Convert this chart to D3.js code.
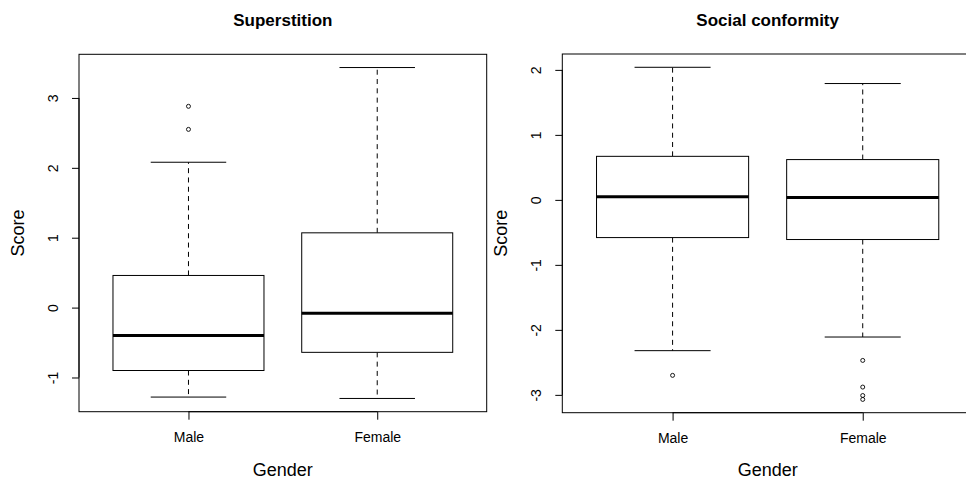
<!DOCTYPE html>
<html>
<head>
<meta charset="utf-8">
<script src="https://cdn.jsdelivr.net/npm/d3@7"></script>
<style>
  html, body { margin: 0; padding: 0; background: #fff; }
  svg { display: block; font-family: "Liberation Sans", Arial, Helvetica, sans-serif; }
</style>
</head>
<body>
<svg id="chart" width="966" height="481"></svg>
<script>
// Groups on the x axis
const groups = ["Male", "Female"];

// Box statistics per group: [lower whisker, Q1, median, Q3, upper whisker]
const superstitionStats = [
  [-1.28, -0.90, -0.40, 0.46, 2.08],
  [-1.30, -0.64, -0.08, 1.07, 3.435]
];
const superstitionOutliers = [
  [2.55, 2.88],
  []
];

const conformityStats = [
  [-2.32, -0.58, 0.05, 0.67, 2.04],
  [-2.11, -0.61, 0.035, 0.62, 1.79]
];
const conformityOutliers = [
  [-2.70],
  [-2.47, -2.88, -3.01, -3.07]
];

// Tick labels on the y axes
const superstitionTicks = [-1, 0, 1, 2, 3];
const conformityTicks = [-3, -2, -1, 0, 1, 2];

const panels = [
  { title: "Superstition", stats: superstitionStats, outliers: superstitionOutliers,
    ticks: superstitionTicks, left: 79, right: 486.7, top: 54.3, bottom: 411.7 },
  { title: "Social conformity", stats: conformityStats, outliers: conformityOutliers,
    ticks: conformityTicks, left: 562.3, right: 973, top: 54, bottom: 412.7 }
];

const svg = d3.select("#chart");

// Extend a range by 4% on each side, as base graphics do
function padded(lo, hi) {
  const r = hi - lo;
  return [lo - 0.04 * r, hi + 0.04 * r];
}

panels.forEach(p => {
  const g = svg.append("g");
  const allVals = p.stats.flat().concat(p.outliers.flat());
  const y = d3.scaleLinear()
    .domain(padded(d3.min(allVals), d3.max(allVals)))
    .range([p.bottom, p.top]);
  const x = d3.scaleLinear()
    .domain(padded(0.5, groups.length + 0.5))
    .range([p.left, p.right]);
  const boxHalf = 0.4;   // box width 0.8 in group units
  const capHalf = 0.2;   // staple width is half the box

  // Whiskers (dashed)
  groups.forEach((grp, i) => {
    const s = p.stats[i];
    const cx = x(i + 1);
    g.append("line")
      .attr("x1", cx).attr("x2", cx)
      .attr("y1", y(s[3])).attr("y2", y(s[4]))
      .attr("stroke", "#000").attr("stroke-width", 1).attr("stroke-dasharray", "5,4.3");
    g.append("line")
      .attr("x1", cx).attr("x2", cx)
      .attr("y1", y(s[1])).attr("y2", y(s[0]))
      .attr("stroke", "#000").attr("stroke-width", 1).attr("stroke-dasharray", "5,4.3");
    // Staples
    [s[0], s[4]].forEach(v => {
      g.append("line")
        .attr("x1", x(i + 1 - capHalf)).attr("x2", x(i + 1 + capHalf))
        .attr("y1", y(v)).attr("y2", y(v))
        .attr("stroke", "#000").attr("stroke-width", 1);
    });
    // Box
    g.append("rect")
      .attr("x", x(i + 1 - boxHalf))
      .attr("width", x(i + 1 + boxHalf) - x(i + 1 - boxHalf))
      .attr("y", y(s[3]))
      .attr("height", y(s[1]) - y(s[3]))
      .attr("fill", "#fff").attr("stroke", "#000").attr("stroke-width", 1);
    // Median
    g.append("line")
      .attr("x1", x(i + 1 - boxHalf)).attr("x2", x(i + 1 + boxHalf))
      .attr("y1", y(s[2])).attr("y2", y(s[2]))
      .attr("stroke", "#000").attr("stroke-width", 3);
    // Outliers
    g.selectAll(null)
      .data(p.outliers[i])
      .enter().append("circle")
      .attr("cx", cx).attr("cy", d => y(d)).attr("r", 2)
      .attr("fill", "none").attr("stroke", "#000").attr("stroke-width", 0.9);
  });

  // Plot frame
  g.append("rect")
    .attr("x", p.left).attr("y", p.top)
    .attr("width", p.right - p.left).attr("height", p.bottom - p.top)
    .attr("fill", "none").attr("stroke", "#000").attr("stroke-width", 1);

  // Y axis
  const yAxis = g.append("g")
    .attr("transform", `translate(${p.left},0)`)
    .call(d3.axisLeft(y).tickValues(p.ticks).tickSize(7).tickFormat(d3.format("d")));
  yAxis.select(".domain")
    .attr("d", `M0,${y(d3.min(p.ticks))}V${y(d3.max(p.ticks))}`)
    .attr("stroke", "#000");
  yAxis.selectAll(".tick line").attr("stroke", "#000");
  yAxis.selectAll(".tick text")
    .attr("x", 0).attr("y", 0).attr("dy", null)
    .attr("transform", "translate(-26,0) rotate(-90)")
    .attr("text-anchor", "middle")
    .attr("dominant-baseline", "central")
    .attr("font-size", 14)
    .attr("font-family", "Liberation Sans, Arial, sans-serif")
    .attr("fill", "#000")
    .text(d => d < 0 ? "-" + Math.abs(d) : String(d));

  // X axis
  const xAxis = g.append("g")
    .attr("transform", `translate(0,${p.bottom})`)
    .call(d3.axisBottom(x).tickValues(groups.map((d, i) => i + 1)).tickSize(8)
      .tickFormat((d) => groups[d - 1]));
  xAxis.select(".domain")
    .attr("d", `M${x(1)},0H${x(groups.length)}`)
    .attr("stroke", "#000");
  xAxis.selectAll(".tick line").attr("stroke", "#000");
  xAxis.selectAll(".tick text")
    .attr("y", 25).attr("dy", "0.35em")
    .attr("font-size", 14)
    .attr("font-family", "Liberation Sans, Arial, sans-serif")
    .attr("fill", "#000");

  const midX = (p.left + p.right) / 2;
  const midY = (p.top + p.bottom) / 2;

  // Title
  g.append("text")
    .attr("x", midX).attr("y", 20)
    .attr("text-anchor", "middle").attr("dominant-baseline", "central")
    .attr("font-size", 17).attr("font-weight", "bold")
    .text(p.title);

  // Axis titles
  g.append("text")
    .attr("x", midX).attr("y", 470)
    .attr("text-anchor", "middle").attr("dominant-baseline", "central")
    .attr("font-size", 18)
    .text("Gender");
  g.append("text")
    .attr("transform", `translate(${p.left - 61},${midY}) rotate(-90)`)
    .attr("text-anchor", "middle").attr("dominant-baseline", "central")
    .attr("font-size", 18)
    .text("Score");
});
</script>
</body>
</html>
